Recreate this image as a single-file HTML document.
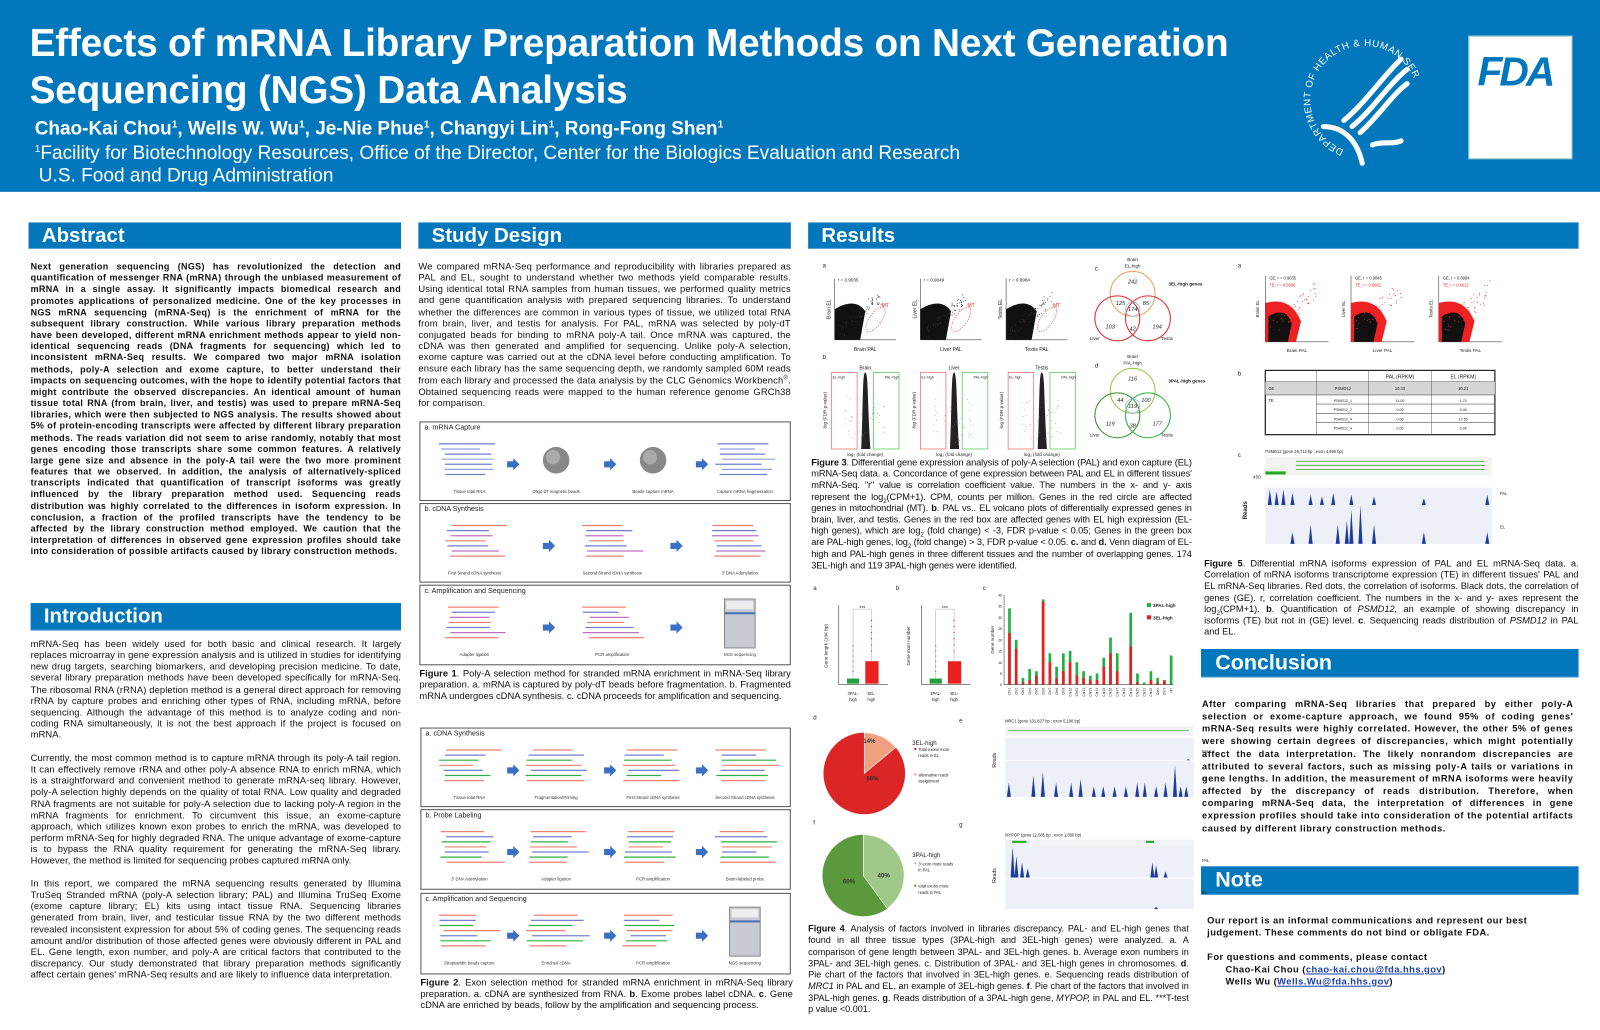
<!DOCTYPE html>
<html><head><meta charset="utf-8">
<style>
html,body{margin:0;padding:0;background:#fff;}
body{width:1600px;height:1029px;overflow:hidden;position:relative;font-family:"Liberation Sans",Arial,sans-serif;}
#wrap{position:absolute;left:0;top:0;width:1568px;height:1009px;transform:scale(1.0204);transform-origin:0 0;}
.abs{position:absolute;}
.hdr{left:0;top:0;width:1568px;height:188px;background:#0277bc;color:#fff;}
.bar{position:absolute;background:#0277bc;color:#fff;font-weight:bold;font-size:20px;line-height:26px;padding-left:13px;box-sizing:border-box;border-bottom:1px solid #5aa0d0;}
.txt{position:absolute;font-size:9.2px;line-height:11.15px;text-align:justify;color:#111;}
.b{font-weight:bold;}
.box{position:absolute;border:1.3px solid #555;box-sizing:border-box;background:#fff;}
.box .t{position:absolute;left:4px;top:2px;font-size:7px;color:#222;}
.cap{position:absolute;font-size:9.2px;line-height:11.2px;text-align:justify;color:#111;}
sub,sup{line-height:0;}
svg text{font-family:"Liberation Sans",Arial,sans-serif;}
</style></head><body>
<div id="wrap">
<div class="abs hdr">
 <div class="abs" style="left:29px;top:20px;font-size:38px;font-weight:bold;line-height:46px;letter-spacing:-0.2px;transform:scaleX(1.0);transform-origin:0 0;white-space:nowrap;">Effects of mRNA Library Preparation Methods on Next Generation<br>Sequencing (NGS) Data Analysis</div>
 <div class="abs" style="left:34px;top:115px;font-size:18.6px;font-weight:bold;white-space:nowrap;">Chao-Kai Chou<sup style="font-size:10px">1</sup>, Wells W. Wu<sup style="font-size:10px">1</sup>, Je-Nie Phue<sup style="font-size:10px">1</sup>, Changyi Lin<sup style="font-size:10px">1</sup>, Rong-Fong Shen<sup style="font-size:10px">1</sup></div>
 <div class="abs" style="left:34px;top:139px;font-size:18.7px;white-space:nowrap;"><sup style="font-size:10px">1</sup>Facility for Biotechnology Resources, Office of the Director, Center for the Biologics Evaluation and Research</div>
 <div class="abs" style="left:38px;top:161px;font-size:18.7px;white-space:nowrap;">U.S. Food and Drug Administration</div>
 <svg class="abs" style="left:1255px;top:20px" width="150" height="150" viewBox="0 0 150 150">
  <defs><path id="circ" d="M62,127 A53,53 0 1,1 132,60"/></defs>
  <text font-family="Liberation Serif" font-size="9.5" fill="#fff" letter-spacing="0.6"><textPath href="#circ" startOffset="0%">DEPARTMENT OF HEALTH &amp; HUMAN SERVICES · USA</textPath></text>
  <g fill="none" stroke="#fff" stroke-width="5" stroke-linecap="round">
   <path d="M62,98 C82,82 100,55 118,38"/>
   <path d="M70,104 C90,88 106,62 124,48"/>
   <path d="M78,110 C96,94 110,72 124,62"/>
   <path d="M42,104 C62,104 75,118 80,140"/>
   <path d="M90,122 C100,118 110,122 118,118"/>
  </g>
 </svg>
 <div class="abs" style="left:1439px;top:35px;width:100px;height:119px;background:#fff;border:1px solid #9cc;">
  <div class="abs" style="left:8px;top:13px;font-size:40px;font-weight:bold;color:#0277bc;letter-spacing:-3px;font-style:italic;">FDA</div>
 </div>
</div>

<!-- column 1 -->
<div class="bar" style="left:28px;top:218px;width:365px;height:26px;">Abstract</div>
<div class="txt b" style="left:30px;top:256px;width:363px;font-size:8.8px;line-height:11.17px;letter-spacing:0.32px;">Next generation sequencing (NGS) has revolutionized the detection and quantification of messenger RNA (mRNA) through the unbiased measurement of mRNA in a single assay. It significantly impacts biomedical research and promotes applications of personalized medicine. One of the key processes in NGS mRNA sequencing (mRNA-Seq) is the enrichment of mRNA for the subsequent library construction. While various library preparation methods have been developed, different mRNA enrichment methods appear to yield non-identical sequencing reads (DNA fragments for sequencing) which led to inconsistent mRNA-Seq results. We compared two major mRNA isolation methods, poly-A selection and exome capture, to better understand their impacts on sequencing outcomes, with the hope to identify potential factors that might contribute the observed discrepancies. An identical amount of human tissue total RNA (from brain, liver, and testis) was used to prepare mRNA-Seq libraries, which were then subjected to NGS analysis. The results showed about 5% of protein-encoding transcripts were affected by different library preparation methods. The reads variation did not seem to arise randomly, notably that most genes encoding those transcripts share some common features. A relatively large gene size and absence in the poly-A tail were the two more prominent features that we observed. In addition, the analysis of alternatively-spliced transcripts indicated that quantification of transcript isoforms was greatly influenced by the library preparation method used. Sequencing reads distribution was highly correlated to the differences in isoform expression. In conclusion, a fraction of the profiled transcripts have the tendency to be affected by the library construction method employed. We caution that the interpretation of differences in observed gene expression profiles should take into consideration of possible artifacts caused by library construction methods.</div>

<div class="bar" style="left:30px;top:591px;width:363px;height:27px;">Introduction</div>
<div class="txt" style="left:30px;top:626px;width:363px;letter-spacing:0.1px;">mRNA-Seq has been widely used for both basic and clinical research. It largely replaces microarray in gene expression analysis and is utilized in studies for identifying new drug targets, searching biomarkers, and developing precision medicine. To date, several library preparation methods have been developed specifically for mRNA-Seq. The ribosomal RNA (rRNA) depletion method is a general direct approach for removing rRNA by capture probes and enriching other types of RNA, including mRNA, before sequencing. Although the advantage of this method is to analyze coding and non-coding RNA simultaneously, it is not the best approach if the project is focused on mRNA.</div>
<div class="txt" style="left:30px;top:738px;width:363px;letter-spacing:0.1px;">Currently, the most common method is to capture mRNA through its poly-A tail region. It can effectively remove rRNA and other poly-A absence RNA to enrich mRNA, which is a straightforward and convenient method to generate mRNA-seq library. However, poly-A selection highly depends on the quality of total RNA. Low quality and degraded RNA fragments are not suitable for poly-A selection due to lacking poly-A region in the mRNA fragments for enrichment. To circumvent this issue, an exome-capture approach, which utilizes known exon probes to enrich the mRNA, was developed to perform mRNA-Seq for highly degraded RNA. The unique advantage of exome-capture is to bypass the RNA quality requirement for generating the mRNA-Seq library. However, the method is limited for sequencing probes captured mRNA only.</div>
<div class="txt" style="left:30px;top:861px;width:363px;letter-spacing:0.1px;">In this report, we compared the mRNA sequencing results generated by Illumina TruSeq Stranded mRNA (poly-A selection library; PAL) and Illumina TruSeq Exome (exome capture library; EL) kits using intact tissue RNA. Sequencing libraries generated from brain, liver, and testicular tissue RNA by the two different methods revealed inconsistent expression for about 5% of coding genes. The sequencing reads amount and/or distribution of those affected genes were obviously different in PAL and EL. Gene length, exon number, and poly-A are critical factors that contributed to the discrepancy. Our study demonstrated that library preparation methods significantly affect certain genes' mRNA-Seq results and are likely to influence data interpretation.</div>

<!-- column 2 -->
<div class="bar" style="left:410px;top:218px;width:365px;height:26px;">Study Design</div>
<div class="txt" style="left:410px;top:256px;width:365px;letter-spacing:0.15px;">We compared mRNA-Seq performance and reproducibility with libraries prepared as PAL and EL, sought to understand whether two methods yield comparable results. Using identical total RNA samples from human tissues, we performed quality metrics and gene quantification analysis with prepared sequencing libraries. To understand whether the differences are common in various types of tissue, we utilized total RNA from brain, liver, and testis for analysis. For PAL, mRNA was selected by poly-dT conjugated beads for binding to mRNA poly-A tail. Once mRNA was captured, the cDNA was then generated and amplified for sequencing. Unlike poly-A selection, exome capture was carried out at the cDNA level before conducting amplification. To ensure each library has the same sequencing depth, we randomly sampled 60M reads from each library and processed the data analysis by the CLC Genomics Workbench<sup style="font-size:6px">®</sup>. Obtained sequencing reads were mapped to the human reference genome GRCh38 for comparison.</div>

<div class="box" style="left:411px;top:413px;width:364px;height:78px;"><div class="t">a. mRNA Capture</div></div>
<div class="box" style="left:411px;top:493px;width:364px;height:78px;"><div class="t">b. cDNA Synthesis</div></div>
<div class="box" style="left:411px;top:573px;width:364px;height:79px;"><div class="t">c. Amplification and Sequencing</div></div>
<div class="cap" style="left:411px;top:655px;width:364px;"><b>Figure 1</b>. Poly-A selection method for stranded mRNA enrichment in mRNA-Seq library preparation. a. mRNA is captured by poly-dT beads before fragmentation. b. Fragmented mRNA undergoes cDNA synthesis. c. cDNA proceeds for amplification and sequencing.</div>

<div class="box" style="left:412px;top:713px;width:363px;height:78px;"><div class="t">a. cDNA Synthesis</div></div>
<div class="box" style="left:412px;top:793px;width:363px;height:79px;"><div class="t">b. Probe Labeling</div></div>
<div class="box" style="left:412px;top:875px;width:363px;height:80px;"><div class="t">c. Amplification and Sequencing</div></div>
<div class="cap" style="left:412px;top:958px;width:365px;"><b>Figure 2</b>. Exon selection method for stranded mRNA enrichment in mRNA-Seq library preparation. a. cDNA are synthesized from RNA. <b>b</b>. Exome probes label cDNA. <b>c</b>. Gene cDNA are enriched by beads, follow by the amplification and sequencing process.</div>

<svg id="diag" class="abs" style="left:0;top:0" width="1568" height="1009"></svg>

<!-- column 3 -->
<div class="abs" style="left:790px;top:242px;width:757px;height:767px;border-top:1px solid #d8e6f0;box-sizing:border-box;"></div>
<div class="bar" style="left:792px;top:218px;width:755px;height:26px;">Results</div>

<div class="cap" style="left:795px;top:448px;width:373px;font-size:9.1px;letter-spacing:-0.1px;"><b>Figure 3</b>. Differential gene expression analysis of poly-A selection (PAL) and exon capture (EL) mRNA-Seq data. a. Concordance of gene expression between PAL and EL in different tissues' mRNA-Seq. "r" value is correlation coefficient value. The numbers in the x- and y- axis represent the log<sub style="font-size:6px">2</sub>(CPM+1). CPM, counts per million. Genes in the red circle are affected genes in mitochondrial (MT). <b>b</b>. PAL vs.. EL volcano plots of differentially expressed genes in brain, liver, and testis. Genes in the red box are affected genes with EL high expression (EL-high genes), which are log<sub style="font-size:6px">2</sub> (fold change) &lt; -3, FDR p-value &lt; 0.05; Genes in the green box are PAL-high genes, log<sub style="font-size:6px">2</sub> (fold change) &gt; 3, FDR p-value &lt; 0.05. <b>c.</b> and <b>d.</b> Venn diagram of EL-high and PAL-high genes in three different tissues and the number of overlapping genes. 174 3EL-high and 119 3PAL-high genes were identified.</div>

<div class="cap" style="left:1180px;top:547px;width:367px;font-size:9.1px;"><b>Figure 5</b>. Differential mRNA isoforms expression of PAL and EL mRNA-Seq data. a. Correlation of mRNA isoforms transcriptome expression (TE) in different tissues' PAL and EL mRNA-Seq libraries. Red dots, the correlation of isoforms. Black dots, the correlation of genes (GE). r, correlation coefficient. The numbers in the x- and y- axes represent the log<sub style="font-size:6px">2</sub>(CPM+1). <b>b</b>. Quantification of <i>PSMD12,</i> an example of showing discrepancy in isoforms (TE) but not in (GE) level. <b>c</b>. Sequencing reads distribution of <i>PSMD12</i> in PAL and EL.</div>

<div class="cap" style="left:792px;top:905px;width:373px;font-size:8.9px;line-height:11.3px;"><b>Figure 4</b>. Analysis of factors involved in libraries discrepancy. PAL- and EL-high genes that found in all three tissue types (3PAL-high and 3EL-high genes) were analyzed. a. A comparison of gene length between 3PAL- and 3EL-high genes. b. Average exon numbers in 3PAL- and 3EL-high genes. c. Distribution of 3PAL- and 3EL-high genes in chromosomes. <b>d</b>. Pie chart of the factors that involved in 3EL-high genes. e. Sequencing reads distribution of <i>MRC1</i> in PAL and EL, an example of 3EL-high genes. <b>f</b>. Pie chart of the factors that involved in 3PAL-high genes. <b>g</b>. Reads distribution of a 3PAL-high gene, <i>MYPOP,</i> in PAL and EL. ***T-test p value &lt;0.001.</div>

<div class="bar" style="left:1177px;top:636px;width:370px;height:28px;font-size:21px;line-height:28px;padding-left:14px;">Conclusion</div>
<div class="txt b" style="left:1178px;top:684px;width:364px;font-size:9px;line-height:12.15px;letter-spacing:0.55px;">After comparing mRNA-Seq libraries that prepared by either poly-A selection or exome-capture approach, we found 95% of coding genes' mRNA-Seq results were highly correlated. However, the other 5% of genes were showing certain degrees of discrepancies, which might potentially affect the data interpretation. The likely nonrandom discrepancies are attributed to several factors, such as missing poly-A tails or variations in gene lengths. In addition, the measurement of mRNA isoforms were heavily affected by the discrepancy of reads distribution. Therefore, when comparing mRNA-Seq data, the interpretation of differences in gene expression profiles should take into consideration of the potential artifacts caused by different library construction methods.</div>

<div class="bar" style="left:1177px;top:849px;width:370px;height:28px;font-size:21px;line-height:28px;padding-left:14px;">Note</div>
<div class="txt b" style="left:1183px;top:896px;width:330px;font-size:9.2px;line-height:12px;letter-spacing:0.45px;text-align:left;">Our report is an informal communications and represent our best judgement. These comments do not bind or obligate FDA.<br><br>For questions and comments, please contact<br>&nbsp;&nbsp;&nbsp;&nbsp;&nbsp;&nbsp;Chao-Kai Chou (<u style="color:#1a3fa8">chao-kai.chou@fda.hhs.gov</u>)<br>&nbsp;&nbsp;&nbsp;&nbsp;&nbsp;&nbsp;Wells Wu (<u style="color:#1a3fa8">Wells.Wu@fda.hhs.gov</u>)</div>

<svg id="res" class="abs" style="left:0;top:0" width="1568" height="1009"></svg>
</div>

<script>
var NS="http://www.w3.org/2000/svg";
function el(svg,tag,at,txt){var e=document.createElementNS(NS,tag);for(var k in at)e.setAttribute(k,at[k]);if(txt!=null)e.textContent=txt;svg.appendChild(e);return e;}
var seed=7;function rnd(){seed=(seed*16807)%2147483647;return (seed-1)/2147483646;}
var D=document.getElementById('diag'),R=document.getElementById('res');
function arrow(s,x,y){el(s,'path',{d:'M'+x+','+(y-3)+' h6 v-3 l6,6 l-6,6 v-3 h-6z',fill:'#3a6fc4'});}
function lines(s,x,y,w,n,cols){for(var i=0;i<n;i++){var c=cols[i%cols.length];var xx=x+rnd()*8,ww=w*(0.55+rnd()*0.4);el(s,'line',{x1:xx,y1:y+i*5,x2:xx+ww,y2:y+i*5,stroke:c,'stroke-width':1.2});}}
function lab(s,x,y,t){el(s,'text',{x:x,y:y,'font-size':4.2,fill:'#333','text-anchor':'middle'},t);}
[[413,['Tissue total RNA','Oligo-dT magnetic beads','Beads capture mRNA','Capture mRNA fragmentation']],
 [493,['First Strand cDNA synthesis','Second Strand cDNA synthesis','3\' DNA Adenylation','']],
 [573,['Adapter ligation','PCR amplification','NGS sequencing','']],
 [713,['Tissue total RNA','Fragmentation/Priming','First Strand cDNA synthesis','Second Strand cDNA synthesis']],
 [793,['3\' DNA Adenylation','Adapter ligation','PCR amplification','Biotin-labeled probe']],
 [875,['Streptavidin beads capture','Enriched cDNA','PCR amplification','NGS sequencing']]].forEach(function(p,pi){
  var y=p[0],L=p[1];var xs=[460,545,640,730];
  if(L[3]===''){xs=[465,600,725];}
  xs.forEach(function(cx,i){if(!L[i])return;lab(D,cx,y+70,L[i]);
    if(i>0)arrow(D,cx-(L[3]===''?68:48),y+42);
  });
  var cols=pi==0?['#6b7fd0','#8fa0e0']:(pi>=3?['#f08070','#7080d0','#30b040']:['#f08070','#7080d0','#c070c0']);
  xs.forEach(function(cx,i){if(!L[i])return;
    if(pi==0&&(i==1||i==2)){el(D,'circle',{cx:cx,cy:y+38,r:13,fill:'#888'});el(D,'circle',{cx:cx-3,cy:y+35,r:7,fill:'#aaa'});}
    else if((pi==2&&i==2)||(pi==5&&i==3)){el(D,'rect',{x:cx-15,y:y+14,width:30,height:48,fill:'#c8ccd2',stroke:'#888'});el(D,'rect',{x:cx-13,y:y+16,width:26,height:8,fill:'#eee'});el(D,'rect',{x:cx-15,y:y+27,width:30,height:2,fill:'#4a70b0'});}
    else lines(D,cx-30,y+22,60,7,cols);
  });
});
function t(x,y,s,sz,extra){var a={x:x,y:y,'font-size':sz||5,fill:'#222'};for(var k in extra)a[k]=extra[k];return el(R,'text',a,s);}
t(806,262,'a',6);t(806,352,'b',6);t(1073,265,'c',6);t(1073,360,'d',6);
[[818,'Brain','0.9035'],[902,'Liver','0.9049'],[986,'Testis','0.8984']].forEach(function(p){
 var x=p[0],y0=273,h=60,w=60;
 el(R,'line',{x1:x,y1:y0,x2:x,y2:y0+h,stroke:'#444','stroke-width':0.6});el(R,'line',{x1:x,y1:y0+h,x2:x+w,y2:y0+h,stroke:'#444','stroke-width':0.6});
 el(R,'path',{d:'M'+x+','+(y0+h)+' L'+x+','+(y0+h-30)+' Q'+(x+20)+','+(y0+h-42)+' '+(x+30)+','+(y0+h-28)+' L'+(x+25)+','+(y0+h)+'z',fill:'#111'});
 for(var i=0;i<60;i++){var a=rnd()*40;el(R,'circle',{cx:x+a+rnd()*8,cy:y0+h-a*0.9-rnd()*12,r:0.5,fill:'#333'});}
 el(R,'ellipse',{cx:x+40,cy:y0+h-20,rx:6,ry:14,transform:'rotate(35 '+(x+40)+' '+(y0+h-20)+')',fill:'none',stroke:'#e44','stroke-width':0.6,'stroke-dasharray':'1.5,1'});
 t(x+46,y0+h-32,'MT',5,{fill:'#e22'});t(x+3,y0+3,'r = '+p[2],4.5);
 t(x+w/2,y0+h+11,p[1]+' PAL',5,{'text-anchor':'middle'});t(x-4,y0+h/2,p[1]+' EL',5,{transform:'rotate(-90 '+(x-4)+' '+(y0+h/2)+')','text-anchor':'middle'});
});
[[815,'Brain'],[902,'Liver'],[988,'Testis']].forEach(function(p){
 var x=p[0],y0=365,w=66,h=75;
 t(x+w/2,y0-3,p[1],5,{'text-anchor':'middle'});
 el(R,'rect',{x:x,y:y0,width:25,height:h,fill:'none',stroke:'#e77','stroke-width':0.8});
 el(R,'rect',{x:x+41,y:y0,width:25,height:h,fill:'none',stroke:'#6c6','stroke-width':0.8});
 el(R,'path',{d:'M'+(x+29)+','+(y0+h)+' C'+(x+31)+','+(y0+30)+' '+(x+30)+','+y0+' '+(x+33)+','+y0+' C'+(x+36)+','+y0+' '+(x+35)+','+(y0+30)+' '+(x+38)+','+(y0+h)+'z',fill:'#222'});
 for(var i=0;i<40;i++){var d=(rnd()-0.5)*40;el(R,'circle',{cx:x+33+d,cy:y0+h-Math.abs(d)*0.8-rnd()*40,r:0.4,fill:'#777'});}
 t(x+1,y0+6,'EL-high',3.5);t(x+52,y0+6,'PAL-high',3.5);
 t(x+w/2,y0+h+7,'log\u2082 (fold change)',4.5,{'text-anchor':'middle'});
 t(x-5,y0+h/2,'-log (FDR p-value)',4.5,{transform:'rotate(-90 '+(x-5)+' '+(y0+h/2)+')','text-anchor':'middle'});
});
function venn(cy,colA,colB,colC,n,top,lbl){var cx=1110;
 el(R,'circle',{cx:cx,cy:cy-12,r:22,fill:'none',stroke:colA,'stroke-width':1});
 el(R,'circle',{cx:cx-15,cy:cy+12,r:22,fill:'none',stroke:colB,'stroke-width':1});
 el(R,'circle',{cx:cx+15,cy:cy+12,r:22,fill:'none',stroke:colC,'stroke-width':1});
 el(R,'circle',{cx:cx,cy:cy+3,r:7,fill:'none',stroke:'#8ab6e8','stroke-width':0.8});
 var pos=[[0,-24],[-12,-3],[13,-3],[0,3],[-22,20],[0,22],[24,20]];
 pos.forEach(function(q,i){t(cx+q[0],cy+q[1]+2,n[i],5.5,{'text-anchor':'middle','font-style':'italic'});});
 t(cx,cy-44,'Brain',4.5,{'text-anchor':'middle'});t(cx,cy-38,top,4.5,{'text-anchor':'middle'});
 t(cx+35,cy-20,lbl,4.5,{'font-weight':'bold'});t(cx-42,cy+33,'Liver',4.5);t(cx+28,cy+33,'Testis',4.5);
}
venn(300,'#f0a060','#e03030','#e03030',['242','125','85','174','103','42','194'],'EL-high','3EL-high genes');
venn(395,'#90c840','#3c9030','#30b040',['116','44','100','119','119','38','177'],'PAL-high','3PAL-high genes');
t(1213,262,'a',6);t(1213,368,'b',6);t(1213,448,'c',6);
[[1240,'Brain','0.9035','0.5696'],[1324,'Liver','0.9045','0.6681'],[1410,'Testis','0.8984','0.6612']].forEach(function(p){
 var x=p[0],y0=270,h=65,w=62;
 el(R,'line',{x1:x,y1:y0,x2:x,y2:y0+h,stroke:'#444','stroke-width':0.6});el(R,'line',{x1:x,y1:y0+h,x2:x+w,y2:y0+h,stroke:'#444','stroke-width':0.6});
 el(R,'path',{d:'M'+x+','+(y0+h)+' L'+x+','+(y0+h-38)+' Q'+(x+25)+','+(y0+h-45)+' '+(x+35)+','+(y0+h-20)+' L'+(x+30)+','+(y0+h)+'z',fill:'#e22'});
 el(R,'path',{d:'M'+(x+3)+','+(y0+h)+' L'+(x+3)+','+(y0+h-25)+' Q'+(x+20)+','+(y0+h-35)+' '+(x+26)+','+(y0+h-18)+' L'+(x+22)+','+(y0+h)+'z',fill:'#111'});
 for(var i=0;i<50;i++){var a=rnd()*50;el(R,'circle',{cx:x+a,cy:y0+h-a*0.8-rnd()*20,r:0.5,fill:'#e22'});}
 t(x+4,y0+4,'GE, r = '+p[2],4);t(x+4,y0+11,'TE, r = '+p[3],4,{fill:'#e22'});
 t(x+w/2,y0+h+10,p[1]+' PAL',4.5,{'text-anchor':'middle'});t(x-6,y0+h/2,p[1]+' EL',4.5,{transform:'rotate(-90 '+(x-6)+' '+(y0+h/2)+')','text-anchor':'middle'});
});
(function(){var x=1240,y=363;el(R,'rect',{x:x,y:y,width:225,height:63,fill:'#fff',stroke:'#222','stroke-width':1.2});
 el(R,'rect',{x:x,y:y+11,width:225,height:13,fill:'#d6d6d6'});
 [1290,1341,1403].forEach(function(v){el(R,'line',{x1:v,y1:y,x2:v,y2:y+63,stroke:'#555','stroke-width':0.5});});
 [y+11,y+24,y+33,y+42,y+51].forEach(function(v,i){el(R,'line',{x1:i<2?x:1290,y1:v,x2:x+225,y2:v,stroke:'#555','stroke-width':0.6});});
 t(1372,y+8,'PAL (RPKM)',5,{'text-anchor':'middle'});t(1434,y+8,'EL (RPKM)',5,{'text-anchor':'middle'});
 t(x+3,y+19,'GE',4);t(1316,y+19,'PSMD12',4,{'text-anchor':'middle'});t(1372,y+19,'10.33',4,{'text-anchor':'middle'});t(1434,y+19,'10.21',4,{'text-anchor':'middle'});
 t(x+3,y+31,'TE',4);[['PSMD12_1','11.00','1.70'],['PSMD12_2','0.00','0.40'],['PSMD12_4','0.00','17.50'],['PSMD12_4','0.00','0.00']].forEach(function(r,i){var yy=y+31+i*9;t(1316,yy,r[0],3.5,{'text-anchor':'middle'});t(1372,yy,r[1],3.5,{'text-anchor':'middle'});t(1434,yy,r[2],3.5,{'text-anchor':'middle'});});
})();
function track(x,y,w,h,peaks,scale){el(R,'rect',{x:x,y:y,width:w,height:h,fill:'#eef0f8'});
 var d='M'+x+','+(y+h);peaks.forEach(function(p){var px=x+p[0]*w,ph=p[1]*h*scale;d+=' L'+(px-2)+','+(y+h)+' L'+px+','+(y+h-ph)+' L'+(px+2)+','+(y+h);});
 d+=' L'+(x+w)+','+(y+h)+'z';el(R,'path',{d:d,fill:'#1e3c9c'});}
t(1240,444,'PSMD12 (gene 28,712 bp ; exon 4,690 bp)',4);
el(R,'rect',{x:1240,y:448,width:222,height:18,fill:'#f2f4f0'});
for(var i=0;i<3;i++)el(R,'line',{x1:1270,y1:452+i*4,x2:1455,y2:452+i*4,stroke:'#3a9a3a','stroke-width':0.8});
el(R,'rect',{x:1240,y:462,width:20,height:3,fill:'#2a2'});
t(1228,469,'450',4.5);t(1222,500,'Reads',6,{transform:'rotate(-90 1222 500)','text-anchor':'middle','font-weight':'bold'});
track(1240,478,222,17,[[0.02,0.9],[0.05,0.8],[0.08,0.9],[0.12,0.7],[0.2,0.6],[0.25,0.5],[0.3,0.7],[0.38,0.6],[0.48,0.5],[0.7,0.4],[0.98,0.6]],1);
track(1240,495,222,38,[[0.12,0.3],[0.2,0.5],[0.32,0.5],[0.36,0.6],[0.38,0.9],[0.42,1],[0.48,0.5],[0.7,0.3],[0.98,0.3]],1);
t(1470,485,'PAL',4);t(1470,518,'EL',4);
t(797,578,'a',6);t(878,578,'b',6);t(963,578,'c',6);t(797,705,'d',6);t(940,708,'e',6);t(797,808,'f',6);t(940,810,'g',6);
function boxp(x,y0,ylab){el(R,'line',{x1:x,y1:y0,x2:x,y2:y0+78,stroke:'#444','stroke-width':0.6});el(R,'line',{x1:x,y1:y0+78,x2:x+48,y2:y0+78,stroke:'#444','stroke-width':0.6});
 el(R,'rect',{x:x+8,y:y0+72,width:12,height:5,fill:'#20a040'});el(R,'rect',{x:x+26,y:y0+55,width:13,height:22,fill:'#e82020'});
 el(R,'path',{d:'M'+(x+14)+','+(y0+72)+' V'+(y0+4)+' H'+(x+32)+' V'+(y0+55),fill:'none',stroke:'#aaa','stroke-width':0.5});
 t(x+23,y0+5,'***',5,{'text-anchor':'middle'});
 for(var i=0;i<6;i++){el(R,'circle',{cx:x+14,cy:y0+40+i*5,r:0.6,fill:'#2a2'});el(R,'circle',{cx:x+32,cy:y0+15+i*6,r:0.6,fill:'#e22'});}
 t(x+14,y0+88,'3PAL-',4,{'text-anchor':'middle'});t(x+14,y0+94,'high',4,{'text-anchor':'middle'});t(x+32,y0+88,'3EL-',4,{'text-anchor':'middle'});t(x+32,y0+94,'high',4,{'text-anchor':'middle'});
 t(x-11,y0+40,ylab,4.5,{transform:'rotate(-90 '+(x-11)+' '+(y0+40)+')','text-anchor':'middle'});}
boxp(822,593,'Gene length (10K bp)');boxp(903,593,'Gene exon number');
(function(){var tot=[34,20,3,7,6,38,14,8,14,15,10,6,4,5,12,21,14,0,32,5,1,6,3,2,13],red=[23,16,1,2,4,37,10,3,6,10,4,3,2,2,8,14,6,0,17,1,0,2,1,2,0];
 var names=['Chr1','Chr2','Chr3','Chr4','Chr5','Chr6','Chr7','Chr8','Chr9','Chr10','Chr11','Chr12','Chr13','Chr14','Chr15','Chr16','Chr17','Chr18','Chr19','Chr20','Chr21','Chr22','ChrX','ChrY','MT'];
 var x0=984,yb=671,s=2.2;el(R,'line',{x1:x0,y1:yb-88,x2:x0,y2:yb,stroke:'#444','stroke-width':0.6});el(R,'line',{x1:x0,y1:yb,x2:x0+166,y2:yb,stroke:'#444','stroke-width':0.6});
 for(var k=0;k<=8;k++)t(x0-2,yb-k*5*s+1.5,String(k*5),3.5,{'text-anchor':'end'});
 t(974,627,'Gene number',4.5,{transform:'rotate(-90 974 627)','text-anchor':'middle'});
 tot.forEach(function(v,i){var x=x0+4+i*6.6;el(R,'rect',{x:x,y:yb-v*s,width:2.6,height:v*s,fill:'#20b040'});el(R,'rect',{x:x,y:yb-red[i]*s,width:2.6,height:red[i]*s,fill:'#e82020'});
  t(x+2.5,yb+3,names[i],3.2,{transform:'rotate(-90 '+(x+2.5)+' '+(yb+3)+')','text-anchor':'end'});});
 el(R,'rect',{x:1124,y:591,width:4,height:4,fill:'#20b040'});t(1130,595,'3PAL-high',4.5,{'font-weight':'bold'});
 el(R,'rect',{x:1124,y:603,width:4,height:4,fill:'#e82020'});t(1130,607,'3EL-high',4.5,{'font-weight':'bold'});
})();
function pie(cx,cy,r,f,c1,c2){var a=f*2*Math.PI;var x=cx+r*Math.sin(a),y=cy-r*Math.cos(a);
 el(R,'circle',{cx:cx,cy:cy,r:r,fill:c1});
 el(R,'path',{d:'M'+cx+','+cy+' L'+cx+','+(cy-r)+' A'+r+','+r+' 0 0,1 '+x+','+y+'z',fill:c2,stroke:'#fff','stroke-width':0.6});}
pie(847,758,40,0.14,'#dc2626','#f0a080');
t(852,728,'14%',6,{'text-anchor':'middle','font-weight':'bold',fill:'#333'});t(855,765,'86%',6,{'font-weight':'bold',fill:'#333','text-anchor':'middle'});
t(894,730,'3EL-high',6);el(R,'rect',{x:896,y:733,width:2,height:2,fill:'#dc2626'});t(900,736,'Total exons more',4);t(900,742,'reads in EL',4);
el(R,'rect',{x:896,y:758,width:2,height:2,fill:'#f0a080'});t(900,761,'alternative reads',4);t(900,767,'assignment',4);
(function(){var cx=846,cy=858,r=40;el(R,'circle',{cx:cx,cy:cy,r:r,fill:'#5a9a3c'});
 var x=cx+r*Math.sin(0.4*2*Math.PI),y=cy-r*Math.cos(0.4*2*Math.PI);
 el(R,'path',{d:'M'+cx+','+cy+' L'+cx+','+(cy-r)+' A'+r+','+r+' 0 0,1 '+x+','+y+'z',fill:'#a0c888',stroke:'#fff','stroke-width':0.6});})();
t(866,860,'40%',6,{'text-anchor':'middle','font-weight':'bold',fill:'#333'});t(832,866,'60%',6,{'font-weight':'bold',fill:'#333','text-anchor':'middle'});
t(894,840,'3PAL-high',6);el(R,'rect',{x:896,y:845,width:2,height:2,fill:'#a0c888'});t(900,848,"3' exon more reads",4);t(900,854,'in PAL',4);
el(R,'rect',{x:896,y:867,width:2,height:2,fill:'#5a9a3c'});t(900,870,'total exons more',4);t(900,876,'reads in PAL',4);
t(985,708,'MRC1 (gene 101,827 bp ; exon 5,198 bp)',4);el(R,'rect',{x:985,y:712,width:185,height:9,fill:'#f0f2f6'});el(R,'line',{x1:988,y1:716,x2:1165,y2:716,stroke:'#3a9a3a','stroke-width':0.6});
track(985,723,185,22,[[0.97,0.05]],1);
track(985,746,185,35,[[0.02,0.4],[0.15,0.6],[0.2,0.7],[0.27,0.4],[0.35,0.4],[0.4,0.5],[0.47,0.3],[0.52,0.3],[0.58,0.3],[0.64,0.3],[0.7,0.4],[0.74,0.4],[0.8,0.3],[0.85,0.4],[0.93,0.3],[0.9,0.9],[0.96,0.3]],1);
t(976,745,'Reads',5,{transform:'rotate(-90 976 745)','text-anchor':'middle'});t(1178,738,'PAL',4);t(1178,765,'EL',4);
t(985,820,'MYPOP (gene 12,585 bp ; exon 1,890 bp)',4);el(R,'rect',{x:985,y:823,width:185,height:7,fill:'#f0f2f6'});el(R,'rect',{x:992,y:824,width:14,height:2,fill:'#2a2'});el(R,'rect',{x:1123,y:824,width:8,height:2,fill:'#2a2'});
track(985,830,185,30,[[0.04,1],[0.06,0.7],[0.09,0.5],[0.12,0.3],[0.78,0.5],[0.8,0.4],[0.85,0.2]],1);
track(985,861,185,30,[[0.8,0.08]],1);
t(976,858,'Reads',5,{transform:'rotate(-90 976 858)','text-anchor':'middle'});t(1178,845,'PAL',4);t(1178,876,'EL',4);
</script>
</body></html>
